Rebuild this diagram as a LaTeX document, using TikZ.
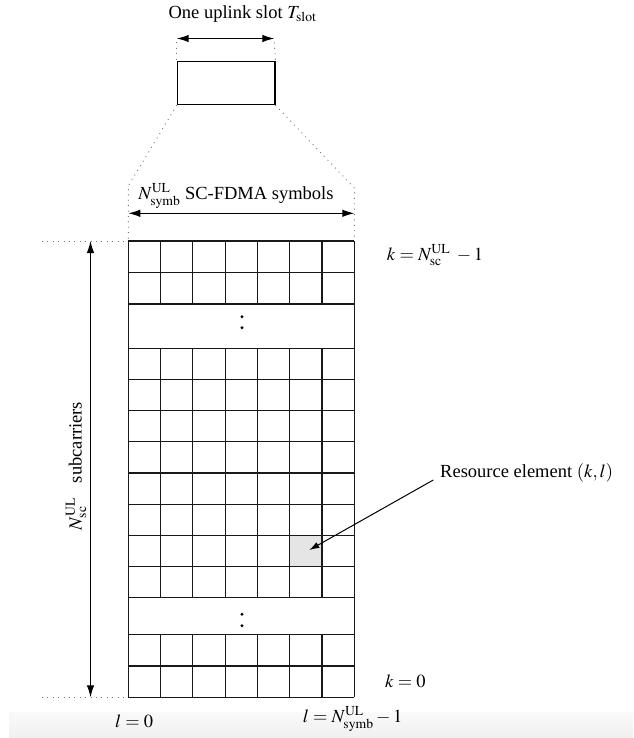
\documentclass[tikz,border=0pt]{standalone}
\usepackage{mathptmx}
\usepackage{fontspec}
\setmainfont{Liberation Serif}
\usetikzlibrary{arrows.meta}
\begin{document}
\begin{tikzpicture}[x=1pt,y=-1pt,
  gridline/.style={line width=1.2pt,draw=black!90},
  dotline/.style={line width=0.9pt,draw=black!55,dash pattern=on 0.9pt off 4.5pt},
  dimarrow/.style={line width=1.1pt,{Latex[length=12pt,width=7.5pt]}-{Latex[length=12pt,width=7.5pt]}},
  lbl/.style={font=\fontsize{18.5}{20}\selectfont,inner sep=0pt},
  dotmark/.style={fill=black}]
\useasboundingbox (0,0) rectangle (633,738);
% screenshot band
\shade[top color=black!2,bottom color=black!6,draw=none] (9,712) rectangle (633,738);

% ---- slot box at top
\node[lbl] (title) at (242.5,14) {One uplink slot $T_{\mathrm{slot}}$};
\node[draw,line width=1.2pt,minimum width=97.6pt,minimum height=43pt,inner sep=0pt,anchor=north west] (slot) at (176.7,61) {};
\coordinate (sa) at (176.7,38.5);
\coordinate (sb) at (274.3,38.5);
\draw[dimarrow] (sa) -- (sb);
\draw[dotline] (sa) ++(0,4) -- (slot.north west);
\draw[dotline] (sb) ++(0,4) -- (slot.north east);

% ---- grid geometry
\def\xl{128.3}\def\xr{354.3}\def\cw{32.286}
\coordinate (gtl) at (\xl,241);
\coordinate (gtr) at (\xr,241);
\coordinate (gbl) at (\xl,697.3);
\coordinate (gbr) at (\xr,697.3);

% dotted fan from slot to grid
\coordinate (fl) at (128.3,186);
\coordinate (fr) at (354.3,188);
\draw[dotline] (slot.south west) -- (fl) -- (gtl);
\draw[dotline] (slot.south east) -- (fr) -- (gtr);

% N_symb arrow
\coordinate (na) at (128.3,213.3);
\coordinate (nb) at (354.3,213.3);
\draw[dimarrow] (na) -- (nb);
\node[lbl] (nsymb) at (236,196) {$N_{\mathrm{symb}}^{\mathrm{UL}}$ SC-FDMA symbols};

% shaded resource element
\fill[black!10] (\xl+5*\cw,535.4) rectangle (\xl+6*\cw,566.5);

% horizontal lines
\foreach \y in {241,272.5,304,348.3,379.5,410.7,441.8,473,504.2,535.4,566.5,597.7,634.7,666,697.3}
  \draw[gridline] (\xl,\y) -- (\xr,\y);
% vertical lines
\draw[gridline] (gtl) -- (gbl);
\draw[gridline] (gtr) -- (gbr);
\foreach \i in {1,...,6}{
  \draw[gridline] (\xl+\i*\cw,241) -- (\xl+\i*\cw,304);
  \draw[gridline] (\xl+\i*\cw,348.3) -- (\xl+\i*\cw,597.7);
  \draw[gridline] (\xl+\i*\cw,634.7) -- (\xl+\i*\cw,697.3);
}
% vertical ellipsis dots
\foreach \y in {316.7,327.7,614.3,625.7}
  \fill[dotmark] (242,\y) circle (1.6pt);

% left subcarrier arrow
\coordinate (la) at (90.5,241);
\coordinate (lb) at (90.5,697.3);
\coordinate (lda) at (42,241);
\coordinate (ldb) at (42,697.3);
\draw[dotline] (lda) -- (gtl);
\draw[dotline] (ldb) -- (gbl);
\draw[dimarrow] (la) -- (lb);
\node[lbl,rotate=90] (nsc) at (76,466) {$N_{\mathrm{sc}}^{\mathrm{UL}}$\hspace{0.8em}subcarriers};

% right-side labels
\node[lbl,anchor=west] (ktop) at (386.7,255) {$k=N_{\mathrm{sc}}^{\mathrm{UL}}\;-1$};
\node[lbl,anchor=west] (kbot) at (385,681.7) {$k=0$};
\node[lbl,anchor=west] (lzero) at (115,721.5) {$l=0$};
\node[lbl,anchor=west] (lmax) at (302.7,719) {$l=N_{\mathrm{symb}}^{\mathrm{UL}}-1$};

% resource element label and arrow
\node[lbl,anchor=west] (re) at (440,472.7) {Resource element $(k,l)$};
\coordinate (retail) at (433.3,480);
\coordinate (retip) at (309.3,550);
\draw[line width=1pt,-{Latex[length=10pt,width=6.5pt]}] (retail) -- (retip);
\end{tikzpicture}
\end{document}
